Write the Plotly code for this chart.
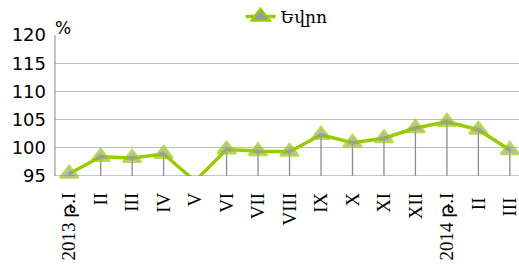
import plotly.graph_objects as go

categories = ["2013 թ.I", "II", "III", "IV", "V", "VI", "VII", "VIII", "IX", "X", "XI", "XII", "2014 թ.I", "II ", "III "]
values = [95.4, 98.4, 98.2, 98.9, 94.1, 99.7, 99.4, 99.3, 102.3, 100.9, 101.7, 103.5, 104.6, 103.2, 99.6]
y_ticks = [95, 100, 105, 110, 115, 120]
series_name = "Եվրո"

x_idx = list(range(len(categories)))
ymin = 95

# drop lines from each point down to the axis
dx, dy = [], []
for i, v in zip(x_idx, values):
    dx += [i, i, None]
    dy += [v, ymin, None]

green = "#99cc00"
grid = "#bfbfbf"
mfill = "#999999"

fig = go.Figure()
fig.add_trace(go.Scatter(x=dx, y=dy, mode="lines", line=dict(color="#8c8c8c", width=1.3),
                         showlegend=False, hoverinfo="skip", cliponaxis=True))
fig.add_trace(go.Scatter(x=x_idx, y=values, mode="lines", line=dict(color=green, width=3.5),
                         showlegend=False, cliponaxis=True))
marker_sizes = [16 if v >= ymin else 0 for v in values]
fig.add_trace(go.Scatter(x=x_idx, y=values, mode="markers", name=series_name,
                         marker=dict(symbol="triangle-up", size=marker_sizes, color=mfill,
                                     line=dict(color=green, width=2.2)),
                         showlegend=False, cliponaxis=False))
# legend entry
fig.add_trace(go.Scatter(x=[None], y=[None], mode="lines+markers", name=series_name,
                         line=dict(color=green, width=3.5),
                         marker=dict(symbol="triangle-up", size=16, color=mfill,
                                     line=dict(color=green, width=2.2))))

fig.update_layout(
    width=519, height=264,
    margin=dict(l=55, r=0, t=35, b=88, autoexpand=False),
    paper_bgcolor="white", plot_bgcolor="white",
    showlegend=True,
    legend=dict(orientation="h", x=0.40, xanchor="left", y=1.0, yanchor="bottom",
                font=dict(family="DejaVu Serif", size=17, color="#000"),
                bgcolor="rgba(0,0,0,0)"),
    xaxis=dict(range=[-0.45, 14.29], tickmode="array", tickvals=x_idx, ticktext=categories,
               tickangle=-90, showgrid=False, zeroline=False, showline=False, ticks="",
               automargin=False, ticklabelstandoff=12, ticklabeloverflow="allow",
               tickfont=dict(family="Liberation Serif", size=19, color="#000")),
    yaxis=dict(range=[95, 120], tickmode="array", tickvals=y_ticks, showgrid=True,
               gridcolor=grid, gridwidth=1, zeroline=False, showline=False, ticks="",
               ticklabelstandoff=8, automargin=False, ticklabeloverflow="allow",
               tickfont=dict(family="DejaVu Sans", size=18, color="#000")),
    annotations=[dict(text="%", xref="paper", yref="paper", x=-0.005, y=0.965, xanchor="left",
                      yanchor="bottom", showarrow=False,
                      font=dict(family="DejaVu Sans", size=17, color="#000"))],
    shapes=[dict(type="line", xref="paper", yref="paper", x0=0, x1=0, y0=0, y1=1,
                 line=dict(color="#8c8c8c", width=1)),
            dict(type="line", xref="paper", yref="y", x0=0, x1=1, y0=95, y1=95,
                 line=dict(color="#8c8c8c", width=1))],
)

fig.write_html("out.html", config={"displayModeBar": False},
               post_script="document.body.style.margin='0';document.body.style.overflow='hidden';")
